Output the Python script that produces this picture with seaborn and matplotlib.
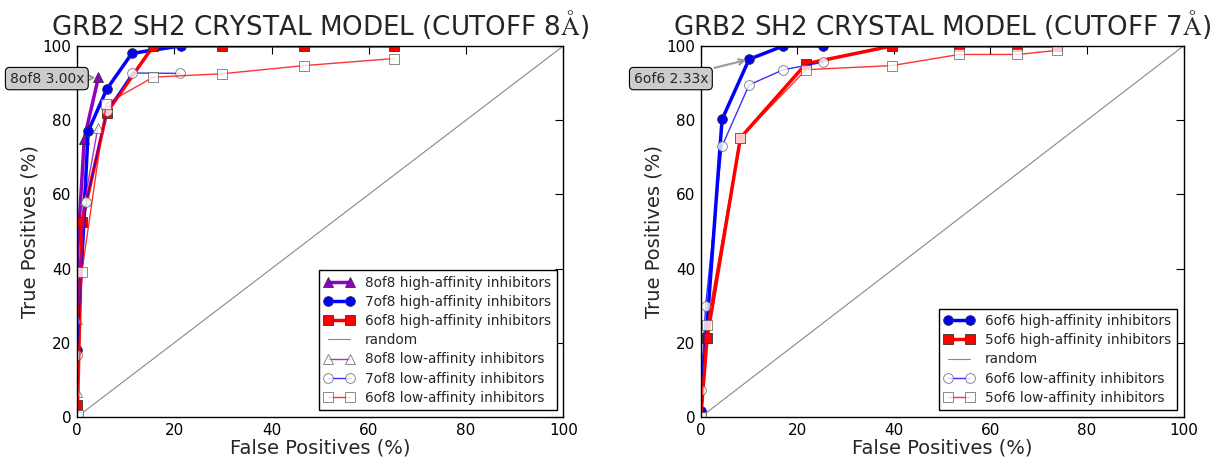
import matplotlib
matplotlib.use("Agg")
import matplotlib.pyplot as plt
import seaborn as sns
import pandas as pd

# ---- data: left panel (cutoff 8 A) ----
x_8of8_high = [0, 0, 1.5, 4.4]
y_8of8_high = [0, 42, 75, 91.5]
x_7of8_high = [0, 0, 2.3, 6.1, 11.3, 21.3]
y_7of8_high = [0, 18, 77, 88.3, 98, 100]
x_6of8_high = [0, 0, 1.0, 6.1, 15.7, 29.8, 46.7, 65.2]
y_6of8_high = [0, 3.2, 52.5, 82, 100, 100, 100, 100]
x_8of8_low = [0, 0, 0, 1.6, 4.3]
y_8of8_low = [0, 6.8, 26.4, 58.4, 78]
x_7of8_low = [0, 0, 1.9, 6.1, 11.3, 21.2]
y_7of8_low = [0, 16.7, 57.9, 82.4, 92.7, 92.6]
x_6of8_low = [0, 0.3, 1.0, 6.0, 15.7, 29.8, 46.7, 65.2]
y_6of8_low = [0, 0.5, 39.1, 84.4, 91.6, 92.5, 94.7, 96.6]

# ---- data: right panel (cutoff 7 A) ----
x_6of6_high = [0, 4.4, 10.0, 17.1, 25.4]
y_6of6_high = [1.7, 80.2, 96.4, 100, 100]
x_5of6_high = [0, 1.3, 8.2, 21.8, 39.6, 53.5, 65.6, 73.8]
y_5of6_high = [0, 21.3, 75.2, 95.2, 100, 100, 100, 100]
x_6of6_low = [0, 0, 1.0, 4.4, 10.0, 17.1, 25.4]
y_6of6_low = [0, 7.3, 30, 73, 89.5, 93.6, 95.6]
x_5of6_low = [0, 1.3, 8.2, 21.8, 39.6, 53.5, 65.6, 73.8]
y_5of6_low = [0, 24.8, 75.2, 93.6, 94.7, 97.7, 97.7, 98.8]

random_xy = [0, 100]

titles = ["GRB2 SH2 CRYSTAL MODEL (CUTOFF 8$\\mathrm{\\AA}$)",
          "GRB2 SH2 CRYSTAL MODEL (CUTOFF 7$\\mathrm{\\AA}$)"]
annot_texts = ["8of8 3.00x", "6of6 2.33x"]
annot_targets = [(4.4, 91.5), (10.0, 96.4)]

sns.set_style("white")
plt.rcParams['font.family'] = ['DejaVu Sans']
plt.rcParams['mathtext.fontset'] = 'stix'

fig = plt.figure(figsize=(12.22, 4.57), dpi=100)
ax1 = fig.add_axes([0.063, 0.0875, 0.398, 0.812])
ax2 = fig.add_axes([0.5735, 0.0875, 0.395, 0.812])

PURPLE = '#9400c0'
BLUE = '#0000ff'
RED = '#ff0000'


def draw(ax, x, y, label, color, marker, high):
    df = pd.DataFrame({"x": x, "y": y})
    if high:
        sns.lineplot(data=df, x="x", y="y", ax=ax, sort=False, estimator=None,
                     label=label, color=color, marker=marker, lw=2.5, ms=7,
                     mfc=color, mec='#333333', mew=0.6)
    else:
        sns.lineplot(data=df, x="x", y="y", ax=ax, sort=False, estimator=None,
                     label=label, color=color, marker=marker, lw=1.0, ms=7,
                     mfc='white', mec='#555555', mew=0.6, alpha=0.8)


def random_line(ax):
    df = pd.DataFrame({"x": random_xy, "y": random_xy})
    sns.lineplot(data=df, x="x", y="y", ax=ax, sort=False, estimator=None,
                 color='#888888', lw=0.8, label='random')


draw(ax1, x_8of8_high, y_8of8_high, '8of8 high-affinity inhibitors', PURPLE, '^', True)
draw(ax1, x_7of8_high, y_7of8_high, '7of8 high-affinity inhibitors', BLUE, 'o', True)
draw(ax1, x_6of8_high, y_6of8_high, '6of8 high-affinity inhibitors', RED, 's', True)
random_line(ax1)
draw(ax1, x_8of8_low, y_8of8_low, '8of8 low-affinity inhibitors', PURPLE, '^', False)
draw(ax1, x_7of8_low, y_7of8_low, '7of8 low-affinity inhibitors', BLUE, 'o', False)
draw(ax1, x_6of8_low, y_6of8_low, '6of8 low-affinity inhibitors', RED, 's', False)

draw(ax2, x_6of6_high, y_6of6_high, '6of6 high-affinity inhibitors', BLUE, 'o', True)
draw(ax2, x_5of6_high, y_5of6_high, '5of6 high-affinity inhibitors', RED, 's', True)
random_line(ax2)
draw(ax2, x_6of6_low, y_6of6_low, '6of6 low-affinity inhibitors', BLUE, 'o', False)
draw(ax2, x_5of6_low, y_5of6_low, '5of6 low-affinity inhibitors', RED, 's', False)

for i, ax in enumerate([ax1, ax2]):
    ax.set_xlim(0, 100)
    ax.set_ylim(0, 100)
    ax.set_xticks([0, 20, 40, 60, 80, 100])
    ax.set_yticks([0, 20, 40, 60, 80, 100])
    ax.tick_params(direction='in', top=True, right=True, length=6, width=0.8,
                   labelsize=11, colors='black', pad=4)
    for s in ax.spines.values():
        s.set_color('black')
        s.set_linewidth(1.0)
    ax.set_xlabel('False Positives (%)', fontsize=14, labelpad=1)
    ax.set_ylabel('True Positives (%)', fontsize=14, labelpad=2)
    ax.set_title(titles[i], fontsize=18.8, pad=8)
    leg = ax.legend(loc='lower right', numpoints=2, fontsize=9.8, fancybox=False,
                    frameon=True, framealpha=1, edgecolor='black',
                    handlelength=2.2, labelspacing=0.38, borderpad=0.4)
    leg.get_frame().set_linewidth(1.0)
    ax.annotate(annot_texts[i], xy=annot_targets[i], xytext=(-6.2, 91.2),
                textcoords='data', ha='center', va='center', fontsize=10,
                annotation_clip=False,
                bbox=dict(boxstyle='round,pad=0.3', fc='#cccccc', ec='black', lw=0.8),
                arrowprops=dict(arrowstyle='->', color='#999999', lw=1.5))

fig.savefig('out.png', dpi=100)
